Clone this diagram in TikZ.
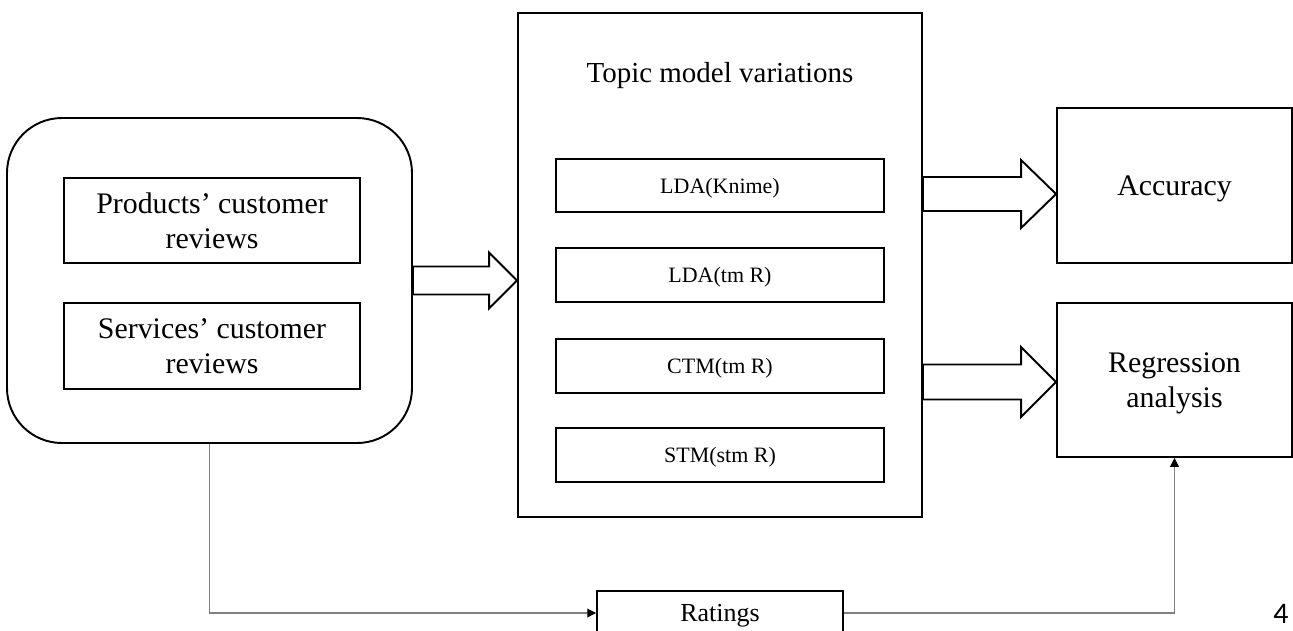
\documentclass[tikz,border=0pt]{standalone}
\usepackage{fontspec}
\setmainfont{Liberation Serif}
\newfontfamily\pagefont{Carlito}
\usepackage{tikz}
\usetikzlibrary{calc}
\usetikzlibrary{arrows.meta}
\tikzset{
  boxline/.style={draw=black, line width=1.1pt},
  bigbox/.style={boxline, rectangle, inner sep=0pt, align=center, text depth=0pt, font=\fontsize{17}{20}\selectfont},
  modelbox/.style={boxline, rectangle, inner sep=0pt, text depth=0pt, minimum width=328*0.02cm, minimum height=54*0.02cm, font=\fontsize{12.5}{15}\selectfont},
  link/.style={draw=gray, line width=0.6pt, -{Triangle[length=5pt,width=5pt,color=black]}}
}
% hollow block arrow: start, tip, shaft half height, head half height, head length
\newcommand{\fatarrow}[5]{ \draw[boxline, fill=white, line join=miter]
  ($(#1)+(0,-#3)$) -- ($(#2)+(-#5,-#3)$) -- ($(#2)+(-#5,-#4)$) -- (#2)
  -- ($(#2)+(-#5,#4)$) -- ($(#2)+(-#5,#3)$) -- ($(#1)+(0,#3)$) -- cycle;}

\begin{document}
\begin{tikzpicture}[x=0.02cm, y=-0.02cm]
        \useasboundingbox (0,0) rectangle (1293,630);

        % input reviews
        \node[bigbox, rounded corners=1.1cm, minimum width=405*0.02cm, minimum height=325*0.02cm] (src) at (209.5,280.5) {};
        \node[bigbox, minimum width=296*0.02cm, minimum height=85*0.02cm] (prod) at (212,220.5) {Products’ customer\\reviews};
        \node[bigbox, minimum width=296*0.02cm, minimum height=86*0.02cm] (serv) at (212,346) {Services’ customer\\reviews};

        % topic models
        \node[bigbox, minimum width=404*0.02cm, minimum height=504*0.02cm] (topic) at (720,265) {};
        \node[font=\fontsize{16.5}{20}\selectfont, text depth=0pt, inner sep=0pt] (title) at (720,72.5) {Topic model variations};
        \node[modelbox, minimum height=53*0.02cm] (ldak) at (720,185.5) {LDA(Knime)};
        \node[modelbox] (ldar) at (720,275) {LDA(tm R)};
        \node[modelbox] (ctm) at (720,366) {CTM(tm R)};
        \node[modelbox] (stm) at (720,455) {STM(stm R)};

        % outputs
        \node[bigbox, minimum width=235*0.02cm, minimum height=155*0.02cm] (acc) at (1174.5,185.5) {Accuracy};
        \node[bigbox, minimum width=235*0.02cm, minimum height=154*0.02cm] (reg) at (1174.5,380) {Regression\\analysis};
        \node[bigbox, font=\fontsize{14.8}{18}\selectfont, minimum width=246*0.02cm, minimum height=44*0.02cm] (rat) at (720,613) {Ratings};

        \node[font=\pagefont\fontsize{17}{20}\selectfont, inner sep=0pt] (pagenum) at (1281,614) {4};

        % block arrows
        \coordinate (a1s) at (src.east);
        \coordinate (a1t) at (src.east -| topic.west);
        \coordinate (a2s) at ($(topic.east |- acc.west)+(0,8.5)$);
        \coordinate (a2t) at (a2s -| acc.west);
        \coordinate (a3s) at ($(topic.east |- reg.west)+(0,2)$);
        \coordinate (a3t) at (a3s -| reg.west);
        \fatarrow{a1s}{a1t}{14}{28}{28}
        \fatarrow{a2s}{a2t}{17}{34}{35}
        \fatarrow{a3s}{a3t}{17.5}{35}{35}

        % ratings path
        \draw[link] (src.south) |- (rat.west);
        \draw[link] (rat.east) -| (reg.south);
    \end{tikzpicture}
\end{document}
